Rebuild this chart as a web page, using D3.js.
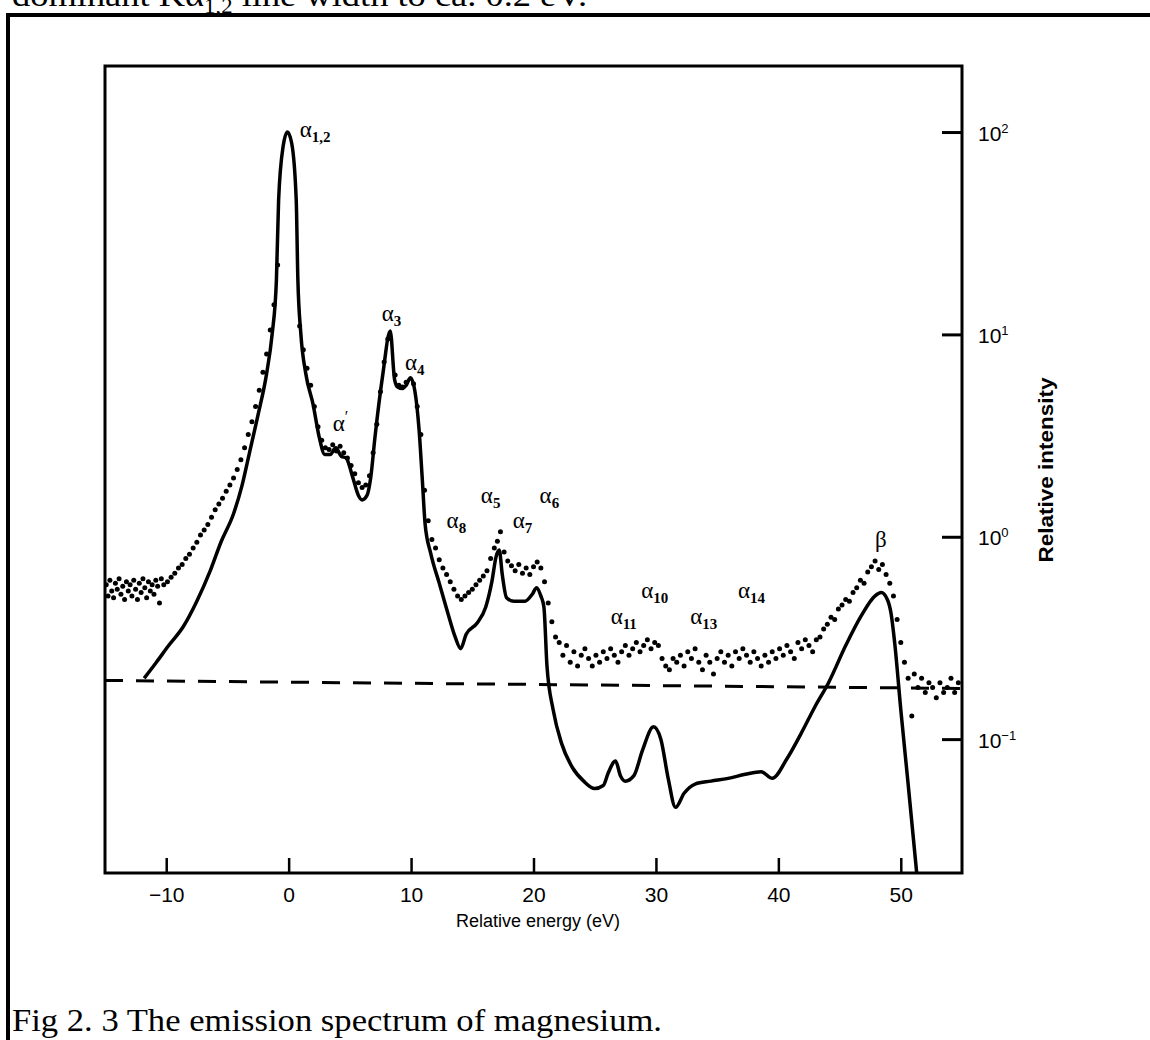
<!DOCTYPE html>
<html><head><meta charset="utf-8">
<script src="https://cdn.jsdelivr.net/npm/d3@7/dist/d3.min.js"></script>
<style>body{margin:0;background:#fff}svg{display:block}</style>
</head><body>
<svg id="c" width="1150" height="1040"></svg>
<script>
// ---------- data ----------
const xTicks = [-10, 0, 10, 20, 30, 40, 50];
const xTickLabels = ["\u221210", "0", "10", "20", "30", "40", "50"];
const yTicks = [0.1, 1, 10, 100];
const yTickExp = ["\u22121", "0", "1", "2"];

const solidCurve = [
 [-11.8,0.2],[-10.8,0.24],[-9.8,0.29],[-8.6,0.36],[-7.5,0.48],[-6.4,0.68],[-5.5,0.95],[-4.5,1.3],
 [-3.8,1.8],[-3.2,2.6],[-2.5,4.0],[-1.8,6.4],[-1.35,10],[-1.0,18.5],[-0.82,46],[-0.45,85],[-0.1,100],
 [0.25,88],[0.62,46],[0.75,19],[1.0,10],[1.4,6.4],[2.0,4.5],[2.5,3.1],[2.95,2.55],[3.4,2.55],[3.85,2.75],
 [4.3,2.5],[4.7,2.45],[5.2,2.0],[5.7,1.6],[6.0,1.52],[6.4,1.6],[6.7,1.95],[7.05,3.1],[7.7,6.4],[8.3,10.4],
 [8.65,6.0],[8.9,5.5],[9.3,5.4],[9.6,5.6],[9.95,6.1],[10.3,5.3],[10.65,3.4],[10.9,2.0],[11.15,1.15],
 [11.6,0.83],[12.3,0.59],[13.0,0.42],[13.6,0.32],[14.05,0.28],[14.5,0.33],[15.4,0.375],[16.1,0.45],
 [16.6,0.6],[16.95,0.8],[17.2,0.86],[17.45,0.65],[17.8,0.5],[18.4,0.48],[19.3,0.48],[19.9,0.52],
 [20.25,0.56],[20.6,0.51],[20.85,0.45],[21.1,0.23],[21.6,0.14],[22.3,0.095],[23.2,0.072],[24.1,0.062],
 [25.0,0.057],[25.7,0.059],[26.1,0.068],[26.7,0.078],[27.1,0.066],[27.5,0.062],[28.2,0.066],[28.9,0.088],
 [29.8,0.115],[30.4,0.1],[31.0,0.064],[31.6,0.046],[32.3,0.054],[33.2,0.06],[34.5,0.062],[35.9,0.064],
 [37.3,0.067],[38.6,0.069],[39.5,0.064],[40.7,0.08],[41.8,0.105],[43.0,0.145],[44.1,0.19],[45.5,0.29],
 [46.8,0.41],[47.9,0.51],[48.4,0.53],[48.9,0.49],[49.2,0.42],[49.5,0.3],[50.0,0.14],[50.6,0.06],[51.3,0.0218]
];

const dotPoints = [
 [-14.9,0.58],[-14.75,0.51],[-14.6,0.61],[-14.45,0.54],[-14.3,0.5],[-14.15,0.59],[-14.0,0.55],[-13.85,0.62],
 [-13.7,0.52],[-13.55,0.57],[-13.4,0.49],[-13.25,0.6],[-13.1,0.54],[-12.95,0.58],[-12.8,0.51],[-12.65,0.61],
 [-12.5,0.55],[-12.35,0.49],[-12.2,0.59],[-12.05,0.53],[-11.9,0.62],[-11.75,0.56],[-11.6,0.5],[-11.45,0.6],
 [-11.3,0.54],[-11.15,0.58],[-11.0,0.52],[-10.85,0.61],[-10.7,0.57],[-10.55,0.47],[-10.4,0.62],[-10.2,0.58],
 [-9.9,0.6],[-9.6,0.63],[-9.3,0.66],[-9.0,0.7],[-8.7,0.73],[-8.4,0.78],[-8.1,0.82],[-7.8,0.88],[-7.5,0.94],
 [-7.2,1.02],[-6.9,1.08],[-6.6,1.15],[-6.3,1.25],[-6.0,1.36],[-5.7,1.45],[-5.4,1.55],[-5.1,1.68],[-4.8,1.8],
 [-4.5,1.95],[-4.2,2.15],[-3.9,2.4],[-3.6,2.75],[-3.3,3.2],[-3.0,3.7],[-2.7,4.4],[-2.4,5.3],[-2.1,6.5],
 [-1.8,8.0],[-1.5,10.5],[-1.2,14],[-0.9,22],[0.9,11],[1.2,8.4],[1.5,6.8],[1.8,5.6],[2.1,4.4],[2.4,3.5],
 [2.7,3.0],[3.0,2.75],[3.3,2.7],[3.6,2.85],[3.9,2.65],[4.2,2.8],[4.5,2.6],[4.8,2.45],[5.1,2.25],[5.4,2.05],
 [5.7,1.85],[6.0,1.75],[6.3,1.8],[6.6,2.0],[6.9,2.6],[7.2,3.6],[7.5,5.2],[7.8,7.3],[8.1,9.5],[8.7,6.3],
 [9.0,5.6],[9.3,5.5],[9.6,5.8],[10.2,5.7],[10.5,4.4],[10.8,3.2],[11.1,1.7],[11.4,1.2],[11.7,0.97],
 [12.0,0.88],[12.3,0.77],[12.6,0.7],[12.9,0.65],[13.2,0.6],[13.5,0.55],[13.8,0.51],[14.1,0.49],[14.4,0.51],
 [14.7,0.53],[15.0,0.55],[15.3,0.58],[15.6,0.61],[15.9,0.64],[16.2,0.68],[16.5,0.78],[16.8,0.88],[17.05,0.95],
 [17.3,1.06],[17.6,0.84],[17.9,0.76],[18.2,0.72],[18.5,0.68],[18.8,0.73],[19.1,0.66],[19.4,0.7],[19.7,0.65],
 [20.0,0.71],[20.3,0.75],[20.6,0.7],[20.9,0.6],[21.2,0.47],[21.5,0.38],[21.8,0.32],[22.1,0.3],[22.4,0.26],
 [22.7,0.29],[23.0,0.24],[23.3,0.27],[23.6,0.23],[23.9,0.26],[24.2,0.28],[24.5,0.25],[24.8,0.23],[25.1,0.26],
 [25.4,0.24],[25.7,0.27],[26.0,0.25],[26.3,0.28],[26.6,0.26],[26.9,0.24],[27.2,0.27],[27.5,0.29],[27.8,0.26],
 [28.1,0.28],[28.4,0.3],[28.7,0.27],[29.0,0.29],[29.3,0.31],[29.6,0.28],[29.9,0.3],[30.2,0.29],[30.5,0.25],
 [30.8,0.23],[31.1,0.22],[31.4,0.25],[31.7,0.24],[32.0,0.26],[32.3,0.23],[32.6,0.27],[32.9,0.25],[33.2,0.28],
 [33.5,0.24],[33.8,0.22],[34.1,0.26],[34.4,0.24],[34.7,0.21],[35.0,0.25],[35.3,0.27],[35.6,0.24],[35.9,0.26],
 [36.2,0.23],[36.5,0.27],[36.8,0.25],[37.1,0.28],[37.4,0.26],[37.7,0.24],[38.0,0.27],[38.3,0.25],[38.6,0.23],
 [38.9,0.26],[39.2,0.24],[39.5,0.27],[39.8,0.25],[40.1,0.28],[40.4,0.26],[40.7,0.29],[41.0,0.27],[41.3,0.25],
 [41.6,0.3],[41.9,0.28],[42.2,0.31],[42.5,0.29],[42.8,0.27],[43.1,0.31],[43.4,0.32],[43.7,0.35],[44.0,0.37],
 [44.3,0.4],[44.6,0.39],[44.9,0.44],[45.2,0.46],[45.5,0.49],[45.8,0.48],[46.1,0.53],[46.4,0.56],[46.7,0.61],
 [47.0,0.59],[47.3,0.67],[47.6,0.71],[47.9,0.76],[48.2,0.69],[48.5,0.73],[48.8,0.65],[49.1,0.59],[49.4,0.51],
 [49.7,0.39],[50.0,0.3],[50.3,0.24],[50.6,0.2],[50.9,0.13],[51.1,0.21],[51.4,0.18],[51.7,0.2],[52.0,0.17],
 [52.3,0.19],[52.6,0.18],[52.9,0.16],[53.2,0.19],[53.5,0.17],[53.8,0.18],[54.1,0.2],[54.4,0.17],[54.7,0.19]
];

const dashedLine = [[-15,0.195],[55,0.178]];

const peakLabels = [
 {main:"\u03b1", sub:"1,2", sup:"", e:0.9, v:95},
 {main:"\u03b1", sub:"3", sup:"", e:7.6, v:11.6},
 {main:"\u03b1", sub:"4", sup:"", e:9.5, v:6.7},
 {main:"\u03b1", sub:"", sup:"\u2032", e:3.6, v:3.35},
 {main:"\u03b1", sub:"8", sup:"", e:12.9, v:1.1},
 {main:"\u03b1", sub:"5", sup:"", e:15.7, v:1.47},
 {main:"\u03b1", sub:"7", sup:"", e:18.3, v:1.1},
 {main:"\u03b1", sub:"6", sup:"", e:20.5, v:1.47},
 {main:"\u03b1", sub:"11", sup:"", e:26.3, v:0.37},
 {main:"\u03b1", sub:"10", sup:"", e:28.8, v:0.5},
 {main:"\u03b1", sub:"13", sup:"", e:32.8, v:0.37},
 {main:"\u03b1", sub:"14", sup:"", e:36.7, v:0.5},
 {main:"\u03b2", sub:"", sup:"", e:47.9, v:0.89}
];

const xTitle = "Relative energy (eV)";
const yTitle = "Relative intensity";
const caption = "Fig 2. 3  The emission spectrum of magnesium.";
const topText = "dominant K\u03b1";
const topTextSub = "1,2";
const topTextRest = " line width to ca. 0.2 eV.";

// ---------- drawing ----------
const svg = d3.select("#c");
const L = 105, R = 962, T = 66, B = 873;
const x = d3.scaleLinear().domain([-15, 55]).range([L, R]);
const y = d3.scaleLog().domain([0.0218, 212]).range([B, T]);

// outer frame
svg.append("path").attr("d", "M8,1040 V15 H1150").attr("fill","none").attr("stroke","#000").attr("stroke-width",4);

// top cut-off text (only its lower part shows, as in the scan)
const tt = svg.append("text").attr("x",12).attr("y",6).attr("font-family","'Liberation Serif', serif")
  .attr("font-size",32).attr("fill","#000").attr("textLength",575).attr("lengthAdjust","spacingAndGlyphs");
tt.append("tspan").text(topText);
tt.append("tspan").attr("font-size",20).attr("dy",7).text(topTextSub);
tt.append("tspan").attr("dy",-7).text(topTextRest);

// plot frame
svg.append("rect").attr("x",L).attr("y",T).attr("width",R-L).attr("height",B-T)
  .attr("fill","none").attr("stroke","#000").attr("stroke-width",3);

svg.append("clipPath").attr("id","pc").append("rect")
  .attr("x",L).attr("y",T).attr("width",R-L).attr("height",B-T);

// bottom axis ticks (inward)
const xAxis = d3.axisBottom(x).tickValues(xTicks).tickSize(-15).tickPadding(14)
  .tickFormat((d,i)=>xTickLabels[i]);
const gx = svg.append("g").attr("transform",`translate(0,${B})`).call(xAxis);
gx.select(".domain").remove();
gx.selectAll(".tick line").attr("stroke","#000").attr("stroke-width",2.5);
gx.selectAll(".tick text").attr("font-family","'Liberation Sans', Arial, sans-serif")
  .attr("font-size",21).attr("fill","#000").attr("dy","0.71em");

// right axis ticks (inward)
const yAxis = d3.axisRight(y).tickValues(yTicks).tickSize(-20).tickFormat(()=>"" );
const gy = svg.append("g").attr("transform",`translate(${R},0)`).call(yAxis);
gy.select(".domain").remove();
gy.selectAll(".tick line").attr("stroke","#000").attr("stroke-width",3);
gy.selectAll(".tick").each(function(d,i){
  const t = d3.select(this).append("text").attr("x",16).attr("y",0).attr("dy","0.38em")
    .attr("font-family","'Liberation Sans', Arial, sans-serif").attr("font-size",21).attr("fill","#000")
    .attr("text-anchor","start");
  t.append("tspan").text("10");
  t.append("tspan").attr("font-size",13).attr("dy",-8).text(yTickExp[i]);
});

// axis titles
svg.append("text").attr("x",538).attr("y",927).attr("text-anchor","middle")
  .attr("font-family","'Liberation Sans', Arial, sans-serif").attr("font-size",18).attr("fill","#000").text(xTitle);
svg.append("text").attr("transform","translate(1053,470) rotate(-90)").attr("text-anchor","middle")
  .attr("font-family","'Liberation Sans', Arial, sans-serif").attr("font-weight","bold")
  .attr("font-size",20).attr("fill","#000").attr("textLength",185).attr("lengthAdjust","spacingAndGlyphs").text(yTitle);

const plot = svg.append("g").attr("clip-path","url(#pc)");

// dashed background line
plot.append("path").datum(dashedLine)
  .attr("d", d3.line().x(d=>x(d[0])).y(d=>y(d[1])))
  .attr("fill","none").attr("stroke","#000").attr("stroke-width",3).attr("stroke-dasharray","18,13");

// dots
plot.selectAll("circle.dot").data(dotPoints).join("circle").attr("class","dot")
  .attr("cx",d=>x(d[0])).attr("cy",d=>y(d[1])).attr("r",2.5).attr("fill","#000");

// solid curve
plot.append("path").datum(solidCurve)
  .attr("d", d3.line().x(d=>x(d[0])).y(d=>y(d[1])).curve(d3.curveMonotoneX))
  .attr("fill","none").attr("stroke","#000").attr("stroke-width",3.5).attr("stroke-linejoin","round");

// peak labels
peakLabels.forEach(p=>{
  const t = svg.append("text").attr("x",x(p.e)).attr("y",y(p.v))
    .attr("font-family","'Liberation Serif', serif").attr("font-size",23).attr("fill","#000");
  t.append("tspan").text(p.main);
  if (p.sub) t.append("tspan").attr("font-size",15).attr("font-weight","bold").attr("dy",5).text(p.sub);
  if (p.sup) t.append("tspan").attr("font-size",16).attr("dy",-9).text(p.sup);
});

// caption
svg.append("text").attr("x",12).attr("y",1031).attr("font-family","'Liberation Serif', serif")
  .attr("font-size",32).attr("fill","#000").attr("textLength",650).attr("lengthAdjust","spacingAndGlyphs").text(caption);
</script>
</body></html>
